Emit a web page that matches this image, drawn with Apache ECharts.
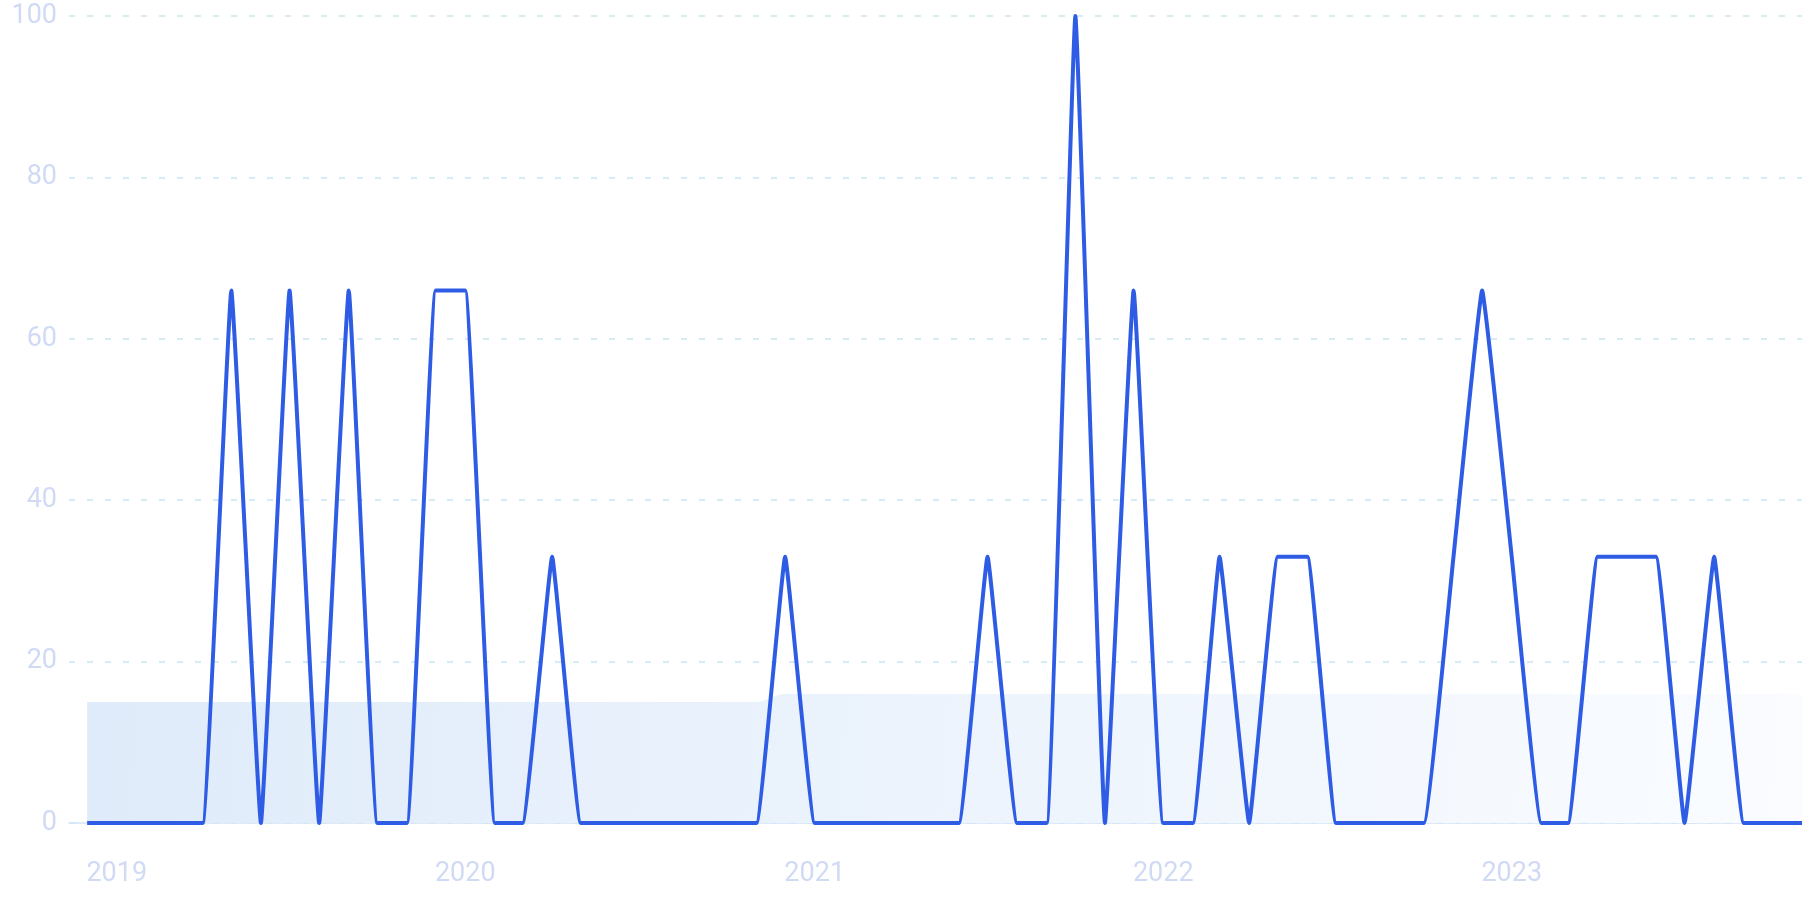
<!DOCTYPE html>
<html>
<head>
<meta charset="utf-8">
<script src="https://cdn.jsdelivr.net/npm/echarts@6/dist/echarts.min.js"></script>
<style>
  html, body { margin: 0; padding: 0; background: #ffffff; }
  #chart { width: 1807px; height: 903px; }
</style>
</head>
<body>
<div id="chart"></div>
<script>
// Monthly dates (Dec 2018 – Nov 2023)
const months = [
  '2018-12-01',
  '2019-01-01','2019-02-01','2019-03-01','2019-04-01','2019-05-01','2019-06-01',
  '2019-07-01','2019-08-01','2019-09-01','2019-10-01','2019-11-01','2019-12-01',
  '2020-01-01','2020-02-01','2020-03-01','2020-04-01','2020-05-01','2020-06-01',
  '2020-07-01','2020-08-01','2020-09-01','2020-10-01','2020-11-01','2020-12-01',
  '2021-01-01','2021-02-01','2021-03-01','2021-04-01','2021-05-01','2021-06-01',
  '2021-07-01','2021-08-01','2021-09-01','2021-10-01','2021-11-01','2021-12-01',
  '2022-01-01','2022-02-01','2022-03-01','2022-04-01','2022-05-01','2022-06-01',
  '2022-07-01','2022-08-01','2022-09-01','2022-10-01','2022-11-01','2022-12-01',
  '2023-01-01','2023-02-01','2023-03-01','2023-04-01','2023-05-01','2023-06-01',
  '2023-07-01','2023-08-01','2023-09-01','2023-10-01','2023-11-01'
];

// Main series values
const interest = [
  0, 0, 0, 0, 0,   66, 0, 66, 0, 66,   0, 0, 66, 66, 0,   0, 33, 0, 0, 0,
  0, 0, 0, 0, 33,  0, 0, 0, 0, 0,      0, 33, 0, 0, 100,  0, 66, 0, 0, 33,
  0, 33, 33, 0, 0, 0, 0, 33, 66, 33,   0, 0, 33, 33, 33,  0, 33, 0, 0, 0
];

// Background band (shaded area) values
const band = [
  15, 15, 15, 15, 15, 15, 15, 15, 15, 15, 15, 15, 15, 15, 15, 15, 15, 15, 15, 15,
  15, 15, 15, 15, 16, 16, 16, 16, 16, 16, 16, 16, 16, 16, 16, 16, 16, 16, 16, 16,
  16, 16, 16, 16, 16, 16, 16, 16, 16, 16, 16, 16, 16, 16, 16, 16, 16, 16, 16, 16
];

// Y tick settings
const yMin = 0, yMax = 100, yStep = 20;

const lineData = months.map((d, i) => [d, interest[i]]);
const bandData = months.map((d, i) => [d, band[i]]);

const chart = echarts.init(document.getElementById('chart'), null, { renderer: 'canvas' });
const labelColor = '#d0daf5';
const DAY = 86400000;

chart.setOption({
  animation: false,
  backgroundColor: '#ffffff',
  grid: { left: 69, right: 5, top: 16, bottom: 80, containLabel: false },
  xAxis: {
    type: 'time',
    min: function (v) { return v.min - 19 * DAY; },
    max: 'dataMax',
    splitNumber: 5,
    minInterval: 365 * DAY,
    axisLine: { show: true, lineStyle: { color: '#d3e2f8', width: 1.5 } },
    axisTick: { show: false },
    splitLine: { show: false },
    axisLabel: {
      color: labelColor,
      fontFamily: 'Roboto',
      fontSize: 27,
      margin: 38,
      showMinLabel: false,
      showMaxLabel: false,
      hideOverlap: false,
      formatter: function (v) { return String(new Date(v).getFullYear()); }
    }
  },
  yAxis: {
    type: 'value',
    min: yMin,
    max: yMax,
    interval: yStep,
    axisLine: { show: false },
    axisTick: { show: false },
    axisLabel: {
      color: labelColor,
      fontFamily: 'Roboto',
      fontSize: 27,
      margin: 12
    },
    splitLine: {
      show: true,
      lineStyle: { color: '#c9e6f2', width: 1.5, type: [6, 12] }
    }
  },
  series: [
    {
      type: 'line',
      data: bandData,
      smooth: 0.3,
      showSymbol: false,
      symbol: 'none',
      lineStyle: { width: 0, opacity: 0 },
      areaStyle: {
        opacity: 1,
        color: {
          type: 'linear', x: 0, y: 0, x2: 1, y2: 1,
          colorStops: [
            { offset: 0, color: '#dfebfa' },
            { offset: 1, color: '#fafcff' }
          ]
        }
      },
      z: 1,
      silent: true
    },
    {
      type: 'line',
      data: lineData,
      smooth: 0.08,
      showSymbol: false,
      symbol: 'none',
      lineStyle: { color: '#2e5ce5', width: 4 },
      z: 3
    }
  ]
});
</script>
</body>
</html>
